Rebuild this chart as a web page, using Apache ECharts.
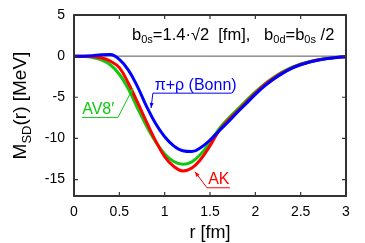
<!DOCTYPE html>
<html><head><meta charset="utf-8">
<script src="https://cdn.jsdelivr.net/npm/echarts@6/dist/echarts.min.js"></script>
<style>html,body{margin:0;padding:0;background:#fff}#c{width:365px;height:243px}</style>
</head><body><div id="c"></div>
<script>
// radial coordinate r [fm]
const r = [0,0.1,0.2,0.3,0.4,0.5,0.6,0.7,0.8,0.9,1.0,1.1,1.2,1.3,1.4,1.5,1.6,1.7,1.8,1.9,2.0,2.1,2.2,2.3,2.4,2.5,2.6,2.7,2.8,2.9,3.0];
// M_SD(r) [MeV]
const bonn = [0,0,0.05,0.18,0.2,-0.4,-1.7,-3.7,-6.1,-8.2,-9.8,-10.9,-11.5,-11.6,-11.1,-10.2,-9.1,-8.0,-6.85,-5.75,-4.65,-3.65,-2.8,-2.1,-1.5,-1.05,-0.72,-0.47,-0.29,-0.16,-0.08];
const ak   = [0,-0.01,-0.05,-0.2,-0.6,-1.4,-3.3,-5.6,-8.0,-10.3,-12.2,-13.4,-13.95,-13.6,-12.5,-10.9,-9.05,-7.8,-6.7,-5.6,-4.5,-3.5,-2.7,-2.0,-1.45,-1.0,-0.7,-0.45,-0.28,-0.15,-0.08];
const av8  = [0,-0.03,-0.15,-0.45,-1.05,-2.2,-4.0,-6.3,-8.5,-10.4,-11.9,-12.8,-13.15,-12.85,-11.9,-10.5,-8.85,-7.6,-6.5,-5.4,-4.35,-3.4,-2.6,-1.92,-1.38,-0.96,-0.66,-0.43,-0.26,-0.14,-0.07];
const xTicks = [0,0.5,1,1.5,2,2.5,3];
const yTicks = [-15,-10,-5,0,5];
const xRange = [0,3], yRange = [-17,5];
const seriesNames = ['AV8\u2032','AK','\u03c0+\u03c1 (Bonn)'];

const C_BLUE = '#0000ff', C_RED = '#ff0000', C_GREEN = '#11c811';
const FRAME = '#333333';
const FONT = 'Liberation Sans, Arial, sans-serif';

const pairs = a => r.map((x,i)=>[x,a[i]]);
const chart = echarts.init(document.getElementById('c'), null, {renderer:'canvas'});

const fmt = v => String(v);
const frameAxis = {show:true,onZero:false,lineStyle:{color:FRAME,width:1}};

const baseSeries = [
  {type:'line',name:'zero',data:[[xRange[0],0],[xRange[1],0]],symbol:'none',lineStyle:{color:'#555',width:1},z:1,silent:true},
  {type:'line',name:seriesNames[0],data:pairs(av8),smooth:0.4,symbol:'none',lineStyle:{color:C_GREEN,width:3},z:2},
  {type:'line',name:seriesNames[1],data:pairs(ak),smooth:0.4,symbol:'none',lineStyle:{color:C_RED,width:3},z:3},
  {type:'line',name:seriesNames[2],data:pairs(bonn),smooth:0.4,symbol:'none',lineStyle:{color:C_BLUE,width:3},z:4}
];

chart.setOption({
  animation:false,
  grid:{left:74,right:19,top:15,bottom:47,containLabel:false,outerBoundsMode:'none',
        show:true,borderColor:FRAME,borderWidth:1.5,backgroundColor:'rgba(255,255,255,0)'},
  xAxis:[
    {type:'value',min:xRange[0],max:xRange[1],interval:0.5,position:'bottom',
      axisLine:frameAxis,axisTick:{show:false},splitLine:{show:false},
      axisLabel:{color:'#000',fontFamily:FONT,fontSize:14,margin:9,formatter:fmt,customValues:xTicks},
      name:'r [fm]',nameLocation:'middle',nameGap:28,
      nameTextStyle:{color:'#000',fontFamily:FONT,fontSize:18}
    },
    {type:'value',min:xRange[0],max:xRange[1],interval:0.5,position:'top',axisLabel:{show:false},
      axisLine:frameAxis,axisTick:{show:false},splitLine:{show:false}}
  ],
  yAxis:[
    {type:'value',min:yRange[0],max:yRange[1],position:'left',
      axisLine:frameAxis,axisTick:{show:false},splitLine:{show:false},
      axisLabel:{color:'#000',fontFamily:FONT,fontSize:14,margin:9,customValues:yTicks,formatter:fmt},
      name:'{m|M}{s|SD}{m|(r) [MeV]}',nameLocation:'middle',nameGap:34,nameRotate:90,
      nameTextStyle:{color:'#000',fontFamily:FONT,fontSize:19,
        rich:{m:{fontFamily:FONT,fontSize:19,lineHeight:26,color:'#000'},
              s:{fontFamily:FONT,fontSize:13,lineHeight:13,verticalAlign:'bottom',color:'#000'}}}
    },
    {type:'value',min:yRange[0],max:yRange[1],position:'right',axisLabel:{show:false},
      axisLine:frameAxis,axisTick:{show:false},splitLine:{show:false}}
  ],
  series:baseSeries
});

const px = p => chart.convertToPixel({xAxisIndex:0,yAxisIndex:0}, p);
const fromPx = p => chart.convertFromPixel({xAxisIndex:0,yAxisIndex:0}, p);

// frame and inward ticks drawn as line series through the axes
const o = px([0,0]);
const TLpx = 4;
const dxTick = fromPx([o[0]+TLpx,o[1]])[0];
const dyTick = -fromPx([o[0],o[1]+TLpx])[1];
const frameData = [[xRange[0],yRange[0]],[xRange[1],yRange[0]],[xRange[1],yRange[1]],[xRange[0],yRange[1]],[xRange[0],yRange[0]]];
const tickData = [];
xTicks.forEach(v=>{
  tickData.push([v,yRange[0]],[v,yRange[0]+dyTick],[v,'-']);
  tickData.push([v,yRange[1]],[v,yRange[1]-dyTick],[v,'-']);
});
yTicks.forEach(v=>{
  tickData.push([xRange[0],v],[xRange[0]+dxTick,v],['-',v]);
  tickData.push([xRange[1],v],[xRange[1]-dxTick,v],['-',v]);
});
chart.setOption({series:baseSeries.concat([
  {type:'line',name:'frame',data:frameData,symbol:'none',clip:false,lineStyle:{color:FRAME,width:1.5},z:6,silent:true},
  {type:'line',name:'ticks',data:tickData,symbol:'none',clip:false,connectNulls:false,lineStyle:{color:FRAME,width:1.2},z:6,silent:true}
])});

const graphics = [];
// backup frame outline as a rectangle located through the axes
const c00 = px([xRange[0],yRange[0]]), c11 = px([xRange[1],yRange[1]]);
graphics.push({type:'rect',shape:{x:c00[0],y:c11[1],width:c11[0]-c00[0],height:c00[1]-c11[1]},
  style:{fill:'rgba(0,0,0,0)',stroke:FRAME,lineWidth:1.5},z:16,silent:true});

// annotations in data coordinates
const annotations = [
  {text:seriesNames[2], color:C_BLUE, textAt:[0.89,-3.55], path:[[1.74,-4.5],[0.87,-4.5],[0.85,-6.3]]},
  {text:seriesNames[0], color:C_GREEN, textAt:[0.09,-6.55], path:[[0.485,-7.45],[0.09,-7.45]], path2:[[0.485,-7.45],[0.65,-3.9]]},
  {text:seriesNames[1], color:C_RED, textAt:[1.48,-15.0], path:[[1.72,-16.0],[1.467,-16.0],[1.334,-14.05]]}
];
function arrowHead(tip, from, color){
  const dx = tip[0]-from[0], dy = tip[1]-from[1], L = Math.hypot(dx,dy);
  const ux = dx/L, uy = dy/L, len = 5, w = 2;
  const bx = tip[0]-ux*len, by = tip[1]-uy*len;
  return {type:'polygon',shape:{points:[tip,[bx-uy*w,by+ux*w],[bx+uy*w,by-ux*w]]},style:{fill:color},z:20};
}
annotations.forEach(a=>{
  const t = px(a.textAt);
  graphics.push({type:'text',x:t[0],y:t[1],style:{text:a.text,fill:a.color,font:'16px '+FONT,textVerticalAlign:'middle'},z:20});
  [a.path,a.path2].forEach(p=>{
    if(!p) return;
    const pts = p.map(px);
    graphics.push({type:'polyline',shape:{points:pts},style:{stroke:a.color,lineWidth:1,fill:null},z:20});
  });
  const last = a.path2 || a.path;
  const pts = last.map(px);
  graphics.push(arrowHead(pts[pts.length-1], pts[pts.length-2], a.color));
});
// parameter note
const noteAt = px([0.64,2.55]);
graphics.push({type:'text',x:noteAt[0],y:noteAt[1],style:{
  text:'{m|b}{s|0s}{m|=1.4\u00b7\u221a2  [fm],   b}{s|0d}{m|=b}{s|0s}{m| /2}',
  textVerticalAlign:'middle',
  rich:{m:{fontFamily:FONT,fontSize:16.5,lineHeight:20,fill:'#000'},
        s:{fontFamily:FONT,fontSize:11,lineHeight:11,verticalAlign:'bottom',fill:'#000'}}},z:20});
chart.setOption({graphic:graphics});
</script></body></html>
